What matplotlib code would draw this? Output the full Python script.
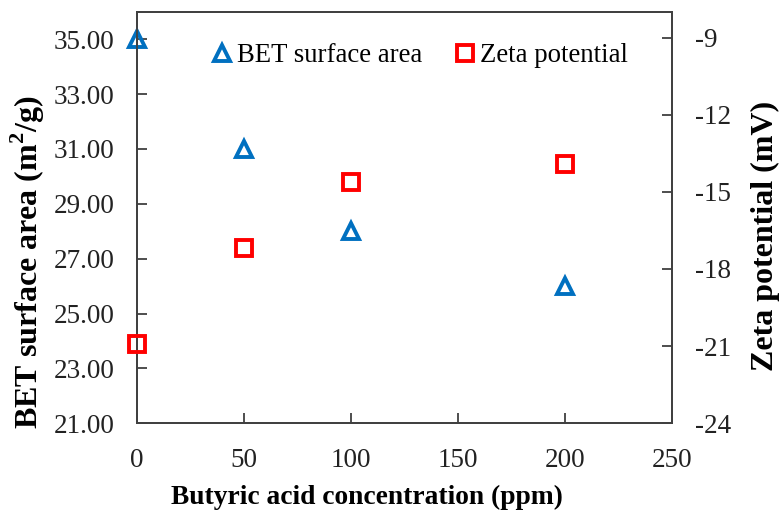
import matplotlib
matplotlib.use('Agg')
import matplotlib.pyplot as plt

plt.rcParams['font.family'] = 'Liberation Serif'
plt.rcParams['mathtext.fontset'] = 'custom'
plt.rcParams['mathtext.rm'] = 'Liberation Serif'
plt.rcParams['mathtext.bf'] = 'Liberation Serif:bold'
plt.rcParams['axes.unicode_minus'] = False

conc = [0, 50, 100, 200]
bet_area = [35.0, 31.0, 28.0, 26.0]        # m2/g
zeta = [-20.9, -17.2, -14.6, -13.9]        # mV

left_ticks = [21, 23, 25, 27, 29, 31, 33, 35]
right_ticks = [-24, -21, -18, -15, -12, -9]
x_ticks = [0, 50, 100, 150, 200, 250]

spine_col = '#404040'

fig = plt.figure(figsize=(7.79, 5.13), dpi=100)
ax1 = fig.add_axes([0.176, 0.175, 0.687, 0.802])
ax2 = ax1.twinx()

l1, = ax1.plot(conc, bet_area, linestyle='none', marker='^', markersize=12,
               markerfacecolor='none', markeredgecolor='#0070C0', markeredgewidth=2.8,
               label='BET surface area', clip_on=False, zorder=5)
l2, = ax2.plot(conc, zeta, linestyle='none', marker='s', markersize=11,
               markerfacecolor='none', markeredgecolor='#FF0000', markeredgewidth=2.8,
               label='Zeta potential', clip_on=False, zorder=5)

ax1.set_xlim(0, 250)
ax1.set_ylim(21, 36)
ax2.set_ylim(-24, -8)
ax1.set_xticks(x_ticks)
ax1.set_yticks(left_ticks)
ax1.set_yticklabels(['%.2f' % v for v in left_ticks])
ax2.set_yticks(right_ticks)

for ax in (ax1, ax2):
    for s in ax.spines.values():
        s.set_color(spine_col)
        s.set_linewidth(1.3)
    ax.tick_params(direction='in', length=7, width=1.3, color=spine_col,
                   labelsize=19.5, labelcolor='#222222', pad=16.5)
ax1.tick_params(axis='x', pad=18)

ax1.set_xlabel('Butyric acid concentration (ppm)', fontsize=19.8, fontweight='bold')
ax1.xaxis.set_label_coords(0.43, -0.18)
ax1.xaxis.label.set_va('center')

ax1.set_ylabel(r'BET surface area (m$^\mathbf{2}$/g)', fontsize=23, fontweight='bold')
ax1.yaxis.set_label_coords(-0.204, 0.392)
ax1.yaxis.label.set_va('center')

ax2.set_ylabel('Zeta potential (mV)', fontsize=23, fontweight='bold')
ax2.yaxis.set_label_coords(1.174, 0.455)
ax2.yaxis.label.set_va('center')

ax1.legend(handles=[l1, l2], loc='center left', ncol=2, frameon=False, fontsize=19.3,
           handlelength=0.6, handletextpad=0.25, columnspacing=1.3, borderpad=0,
           borderaxespad=0, bbox_to_anchor=(0.144, 0.893))

fig.savefig('out.png', dpi=100)
